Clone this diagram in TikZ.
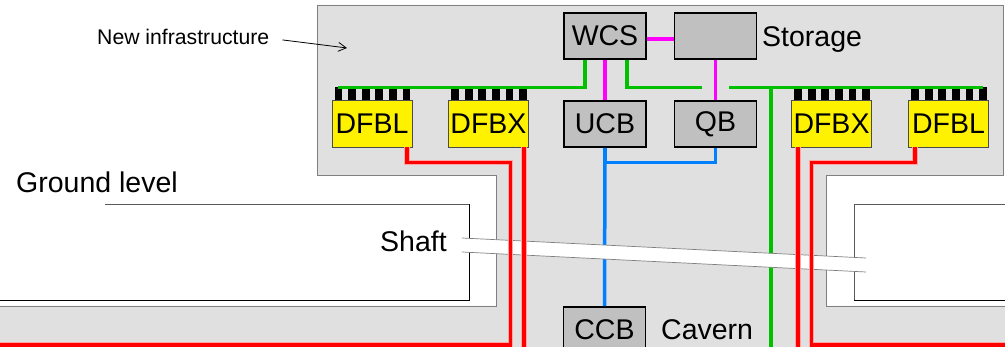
\documentclass[tikz,border=0pt]{standalone}
\usepackage{fontspec}
\setmainfont{Liberation Sans}
\usetikzlibrary{arrows.meta}
\definecolor{regiongray}{HTML}{E0E0E0}
\definecolor{boxgray}{HTML}{C0C0C0}
\definecolor{lgreen}{HTML}{00C000}
\definecolor{lblue}{HTML}{0080FF}
\definecolor{lmag}{HTML}{FF00FF}
\begin{document}
\begin{tikzpicture}[x=1pt,y=-1pt,
  lbl/.style={font=\fontsize{28.5}{32}\selectfont, inner sep=0pt},
  graybox/.style={lbl, draw=black, line width=1.8pt, fill=boxgray, minimum width=82pt, minimum height=46pt},
  dfb/.style={lbl, draw=black!70, line width=0.8pt, fill=yellow, minimum width=80pt, minimum height=47pt},
  gline/.style={draw=lgreen, line width=3.5pt},
  mline/.style={draw=lmag, line width=3.5pt},
  bline/.style={draw=lblue, line width=3.5pt},
  rline/.style={draw=red, line width=3.5pt, preaction={draw=red!35, line width=5.5pt}},
  edge/.style={draw=gray, line width=0.7pt}
]
\useasboundingbox (0,0) rectangle (1005,347);
\fill[white] (0,0) rectangle (1005,347);
% region (new infrastructure, shaft, cavern)
\filldraw[fill=regiongray, edge] (317,5) -- (1003,5) -- (1003,175) -- (826,175) -- (826,306) -- (1010,306) -- (1010,352) -- (-5,352) -- (-5,306) -- (496,306) -- (496,175) -- (317,175) -- cycle;
% ground level
\draw[gray!70!black, line width=0.8pt] (105,204) -- (469,204);
\draw[black, line width=0.8pt] (469,204) -- (469,300) -- (-5,300);
\draw[gray!70!black, line width=0.8pt] (1010,204) -- (854,204) -- (854,300);
\draw[black, line width=0.8pt] (854,300) -- (1010,300);

% boxes
\node[graybox] (wcs) at (605,36) {WCS};
\node[graybox] (sto) at (715.5,36) {};
\node[graybox] (ucb) at (605,124) {UCB};
\node[graybox] (qb) at (715.5,124) {QB};
\node[graybox] (ccb) at (604.5,330) {CCB};
\node[dfb] (dl) at (372,123.5) {DFBL};
\node[dfb] (dx) at (488.5,123.5) {DFBX};
\node[dfb] (dx2) at (831.5,123.5) {DFBX};
\node[dfb] (dl2) at (948.5,123.5) {DFBL};
\foreach \n in {dl,dx,dx2,dl2}
  \foreach \i in {0,...,5}
    \fill ([xshift=3pt+\i*13.6pt]\n.north west) rectangle ++(7.8,-13);

% labels
\node[lbl, anchor=base west] (stol) at (762,47) {Storage};
\node[lbl, anchor=base west] (cav) at (661,340) {Cavern};
\node[lbl, anchor=base west] (gl) at (16,193) {Ground level};
\node[lbl, anchor=base west] (sh) at (380,252) {Shaft};
\node[font=\fontsize{21.2}{23}\selectfont, inner sep=0pt, anchor=base west] (ni) at (97,44.5) {New infrastructure};

% coordinates
\coordinate (g1) at (338,87.5);
\coordinate (g2) at (702,87.5);
\coordinate (g3) at (729,87.5);
\coordinate (g4) at (983,87.5);
\coordinate (g5) at (771,87.5);
\coordinate (g6) at (771,350);
\coordinate (rl) at (-5,345);
\coordinate (rr) at (1010,345);
\coordinate (rb1) at (524,350);
\coordinate (rb2) at (798,350);
\coordinate (ar) at (347,48);

% arrow
\draw[line width=0.8pt, -{Straight Barb[length=8pt,width=9pt]}] ([xshift=13pt,yshift=-3pt]ni.east) -- (ar);

% green
\draw[gline] ([xshift=-20pt]wcs.south) |- (g1);
\draw[gline] ([xshift=22pt]wcs.south) |- (g2);
\draw[gline] (g3) -- (g4);
\draw[gline] (g5) -- (g6);
% magenta
\draw[mline] ([yshift=-3pt]wcs.east) -- ([yshift=-3pt]sto.west);
\draw[mline] (wcs.south) -- (ucb.north);
\draw[mline] (sto.south) -- (qb.north);
% blue
\draw[bline] (ucb.south) -- (ccb.north);
\draw[bline] (qb.south) -- ++(0,14.5) -| (ucb.south);

% shaft band
\fill[white] (462,238) -- (866,258) -- (866,272) -- (462,252) -- cycle;
\draw[edge] (462,238) -- (866,258);
\draw[edge] (462,252) -- (866,272);

% red
\draw[rline] ([xshift=35pt]dl.south) -- ++(0,15) -- ++(103.5,0) |- (rl);
\draw[rline] ([xshift=35.5pt]dx.south) -- (rb1);
\draw[rline] ([xshift=-33.5pt]dx2.south) -- (rb2);
\draw[rline] ([xshift=-33.5pt]dl2.south) -- ++(0,15) -- ++(-103.5,0) |- (rr);
\end{tikzpicture}
\end{document}
